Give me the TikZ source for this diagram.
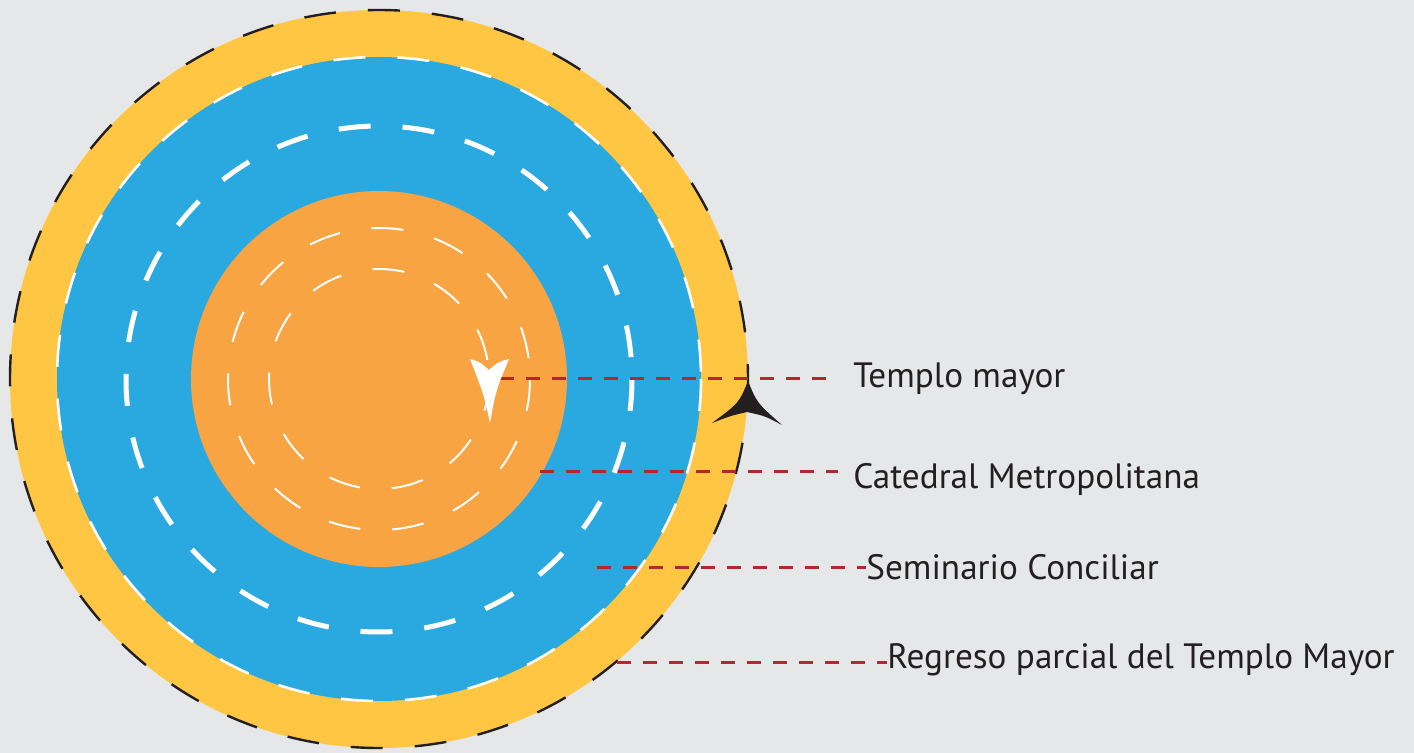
\documentclass[tikz,border=0pt]{standalone}
\usepackage{fontspec}
\setmainfont{PT Sans}
\usetikzlibrary{positioning}
\definecolor{fondo}{HTML}{E6E7E8}
\definecolor{amarillo}{HTML}{FEC642}
\definecolor{azul}{HTML}{29A9E0}
\definecolor{naranja}{HTML}{F8A443}
\definecolor{rojo}{HTML}{B2282D}
\definecolor{texto}{HTML}{231F20}

\begin{document}
\begin{tikzpicture}[x=0.5pt,y=-0.5pt]

  \tikzset{main node/.style={anchor=base west, inner sep=0pt,
  		text=texto, font=\fontsize{17.6}{21}\selectfont}, }
  \tikzset{anillo/.style={dash pattern=on 16pt off 16pt}, }
  \tikzset{linea/.style={draw=rojo, line width=1.5pt,
  		dash pattern=on 7pt off 6pt}, }
  \useasboundingbox[fill=fondo] (0,0) rectangle (1414,753);
  \coordinate (c) at (379,379);
    \fill[amarillo] (c) circle (369);
    \draw[texto, line width=1.2pt, anillo] (c) circle (369);
    \fill[azul] (c) circle (322);
    \draw[white, line width=1.3pt, anillo] (c) circle (322);
    \draw[white, line width=2.5pt, anillo] (c) circle (253);
    \fill[naranja] (c) circle (188);
    \draw[white, line width=1pt, anillo] (c) circle (151);
    \draw[white, line width=1pt, anillo] (c) circle (110);

    \node[main node] (1) at (853,388) {Templo mayor};
    \node[main node] (2) at (853,488) {Catedral Metropolitana};
    \node[main node] (3) at (866,579) {Seminario Conciliar};
    \node[main node] (4) at (887,668) {Regreso parcial del Templo Mayor};
    \coordinate (p1) at (500,379);
    \coordinate (p2) at (540,472);
    \coordinate (p3) at (597,567);
    \coordinate (p4) at (617,662);

\foreach \x /\y /\s in{p1/1/8.5pt,p2/2/7.5pt,p3/3/0pt,p4/4/0pt}
  \draw[linea, shorten >=\s] (\x) -- (\x -| \y.west);
%%
    \fill[white] (490,423) .. controls (484,395) .. (470,359)
      .. controls (480,362) .. (489,370) .. controls (498,362) .. (509,359)
      .. controls (496,390) .. cycle;
    \fill[texto] (748,381) .. controls (739,403) .. (712,423)
      .. controls (730,416) .. (747,412) .. controls (765,416) .. (782,425)
      .. controls (757,403) .. cycle;
\end{tikzpicture}
\end{document}
